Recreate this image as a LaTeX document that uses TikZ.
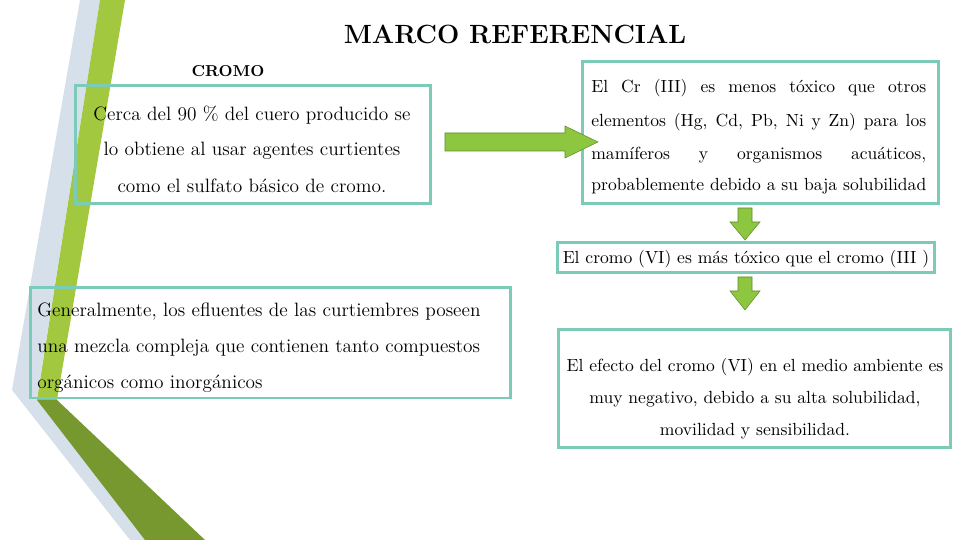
\documentclass[tikz,border=0pt]{standalone}
\usetikzlibrary{positioning}
\definecolor{tealbox}{HTML}{7CCBB9}
\definecolor{grarrow}{HTML}{8DC63F}
\definecolor{grdark}{HTML}{5E8C2A}
\definecolor{bandblue}{HTML}{D5E0EA}
\definecolor{bandgreen}{HTML}{A2C840}
\definecolor{banddark}{HTML}{77982E}
\tikzset{
  infobox/.style={draw=tealbox,line width=0.6mm,inner sep=0pt},
  boxtext/.style={inner sep=0pt,font=\fontsize{11}{13}\selectfont},
  smalltext/.style={inner sep=0pt,font=\fontsize{10}{12}\selectfont},
  fullline/.style={smalltext,anchor=west},
  blockarrow/.style={fill=grarrow,draw=grdark,line width=0.3pt}
}
\newcommand{\jline}[1]{\makebox[6.7cm][s]{#1}}
\begin{document}
\begin{tikzpicture}[x=0.02cm,y=-0.02cm]
\useasboundingbox (0,0) rectangle (960,540);
% left decoration
\fill[bandblue] (80,0) -- (100,0) -- (37,398) -- (160,540) -- (130,540) -- (12,390) -- cycle;
\fill[bandgreen] (100,0) -- (125,0) -- (57,400) -- (37,400) -- cycle;
\fill[banddark] (37,400) -- (57,400) -- (205,540) -- (145,540) -- cycle;

\node (title) at (515,34) {\fontsize{15}{18}\selectfont\bfseries MARCO REFERENCIAL};
\node (cromo) at (228,71) {\small\bfseries CROMO};

% boxes
\draw[infobox] (75,86) rectangle (430,204);
\node[boxtext] (c1) at (252,115) {Cerca del 90 \% del cuero producido se};
\node[boxtext] (c2) at (252,151) {lo obtiene al usar agentes curtientes};
\node[boxtext] (c3) at (252,186) {como el sulfato básico de cromo.};

\draw[infobox] (582,62) rectangle (938,204);
\node[fullline] (t1) at (591,88) {\jline{El Cr (III) es menos tóxico que otros}};
\node[fullline] (t2) at (591,122) {\jline{elementos (Hg, Cd, Pb, Ni y Zn) para los}};
\node[fullline] (t3) at (591,155) {\jline{mamíferos y organismos acuáticos,}};
\node[fullline] (t4) at (591,186) {\jline{probablemente debido a su baja solubilidad}};

\draw[infobox] (557,243) rectangle (934,273);
\node[smalltext] (vi) at (746,259) {El cromo (VI) es más tóxico que el cromo (III )};

\draw[infobox] (30,288) rectangle (510,398);
\node[boxtext,anchor=west] (g1) at (37,312) {Generalmente, los efluentes de las curtiembres poseen};
\node[boxtext,anchor=west] (g2) at (37,348) {una mezcla compleja que contienen tanto compuestos};
\node[boxtext,anchor=west] (g3) at (37,384) {orgánicos como inorgánicos};

\draw[infobox] (558,330) rectangle (950,447);
\node[smalltext] (e1) at (755,367) {El efecto del cromo (VI) en el medio ambiente es};
\node[smalltext] (e2) at (755,399) {muy negativo, debido a su alta solubilidad,};
\node[smalltext] (e3) at (755,431) {movilidad y sensibilidad.};

% arrows
\draw[blockarrow] (445,133) -- (565,133) -- (565,126) -- (598,142) -- (565,158) -- (565,151) -- (445,151) -- cycle;
\draw[blockarrow] (738,208) -- (752,208) -- (752,222) -- (760,222) -- (745,240) -- (730,222) -- (738,222) -- cycle;
\draw[blockarrow] (738,277) -- (752,277) -- (752,291) -- (760,291) -- (745,310) -- (730,291) -- (738,291) -- cycle;
\end{tikzpicture}
\end{document}
